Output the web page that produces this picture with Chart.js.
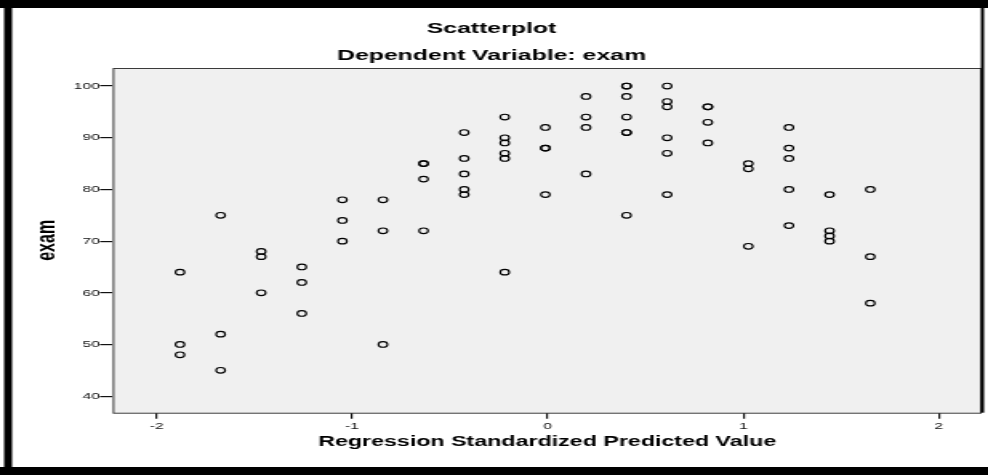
<!DOCTYPE html>
<html>
<head>
<meta charset="utf-8">
<title>Scatterplot</title>
<script src="https://cdn.jsdelivr.net/npm/chart.js@4.4.1/dist/chart.umd.min.js"></script>
<style>
  html, body { margin: 0; padding: 0; background: #ffffff; overflow: hidden; }
  #wrap { width: 988px; height: 475px; overflow: hidden; }
  /* the chart is laid out on a narrower canvas and widened to the page width */
  #chart { display: block; transform: scaleX(1.6013); transform-origin: 0 0; }
</style>
</head>
<body>
<div id="wrap"><canvas id="chart" width="617" height="475"></canvas></div>
<script>
// Regression standardized predicted value of each case
const predictedValue = [
  -1.881, -1.881, -1.881,
  -1.673, -1.673, -1.673,
  -1.466, -1.466, -1.466,
  -1.258, -1.258, -1.258,
  -1.050, -1.050, -1.050,
  -0.843, -0.843, -0.843,
  -0.635, -0.635, -0.635, -0.635,
  -0.427, -0.427, -0.427, -0.427, -0.427,
  -0.220, -0.220, -0.220, -0.220, -0.220, -0.220,
  -0.012, -0.012, -0.012, -0.012,
   0.196,  0.196,  0.196,  0.196,
   0.403,  0.403,  0.403,  0.403,  0.403,  0.403,  0.403,
   0.611,  0.611,  0.611,  0.611,  0.611,  0.611,
   0.819,  0.819,  0.819,  0.819,
   1.026,  1.026,  1.026,
   1.234,  1.234,  1.234,  1.234,  1.234,
   1.442,  1.442,  1.442,  1.442,
   1.650,  1.650,  1.650
];

// Observed exam score of each case
const examScore = [
  64, 50, 48,
  75, 52, 45,
  68, 67, 60,
  65, 62, 56,
  78, 74, 70,
  78, 72, 50,
  85, 85, 82, 72,
  91, 86, 83, 80, 79,
  94, 90, 89, 87, 86, 64,
  92, 88, 88, 79,
  98, 94, 92, 83,
  100, 100, 98, 94, 91, 91, 75,
  100, 97, 96, 90, 87, 79,
  96, 96, 93, 89,
  85, 84, 69,
  92, 88, 86, 80, 73,
  79, 72, 71, 70,
  80, 67, 58
];

const xTickValues = [-2, -1, 0, 1, 2];
const yTickValues = [40, 50, 60, 70, 80, 90, 100];

const chartTitle = 'Scatterplot';
const chartSubtitle = 'Dependent Variable: exam';
const xAxisTitle = 'Regression Standardized Predicted Value';
const yAxisTitle = 'exam';

const FONT = '"Liberation Sans", Arial, Helvetica, sans-serif';

const points = predictedValue.map((x, i) => ({ x: x, y: examScore[i] }));

// Grey plot panel, its outline and the black frame round the figure
const plotFrame = {
  id: 'plotFrame',
  beforeDraw(chart) {
    const { ctx, chartArea: a } = chart;
    ctx.save();
    ctx.fillStyle = '#f0f0f0';
    ctx.fillRect(a.left, a.top, a.right - a.left, a.bottom - a.top);
    ctx.restore();
  },
  afterDraw(chart) {
    const { ctx, chartArea: a, width, height } = chart;
    ctx.save();
    ctx.strokeStyle = '#3a3a3a';
    ctx.lineWidth = 1;
    ctx.strokeRect(a.left + 0.5, a.top + 0.5, a.right - a.left - 1, a.bottom - a.top);
    ctx.fillStyle = '#000000';
    ctx.fillRect(0, 0, width, 8);
    ctx.fillRect(2.5, 0, 5, height);
    ctx.fillRect(0, height - 8, width, 8);
    ctx.fillRect(a.right - 0.5, 0, 2, a.bottom);
    ctx.restore();
  }
};

new Chart(document.getElementById('chart'), {
  type: 'scatter',
  data: {
    datasets: [{
      data: points,
      showLine: false,
      pointStyle: 'circle',
      pointRadius: 2.8,
      pointHoverRadius: 2.8,
      pointBorderWidth: 1.15,
      borderColor: '#000000',
      backgroundColor: 'rgba(0,0,0,0)'
    }]
  },
  options: {
    responsive: false,
    animation: false,
    events: [],
    layout: { padding: { left: 0, right: 3.1, top: 0, bottom: 0 } },
    plugins: {
      legend: { display: false },
      tooltip: { enabled: false },
      title: {
        display: true,
        text: chartTitle,
        color: '#000000',
        font: { family: FONT, size: 15.5, weight: 'bold' },
        padding: { top: 19.7, bottom: 8.4 }
      },
      subtitle: {
        display: true,
        text: chartSubtitle,
        color: '#000000',
        font: { family: FONT, size: 15.5, weight: 'bold' },
        padding: { top: 0, bottom: 2.7 }
      }
    },
    scales: {
      x: {
        type: 'linear',
        position: 'bottom',
        min: -2.225,
        max: 2.22,
        afterBuildTicks(scale) { scale.ticks = xTickValues.map(v => ({ value: v })); },
        afterFit(scale) { scale.height = 62.3; },
        border: { display: false },
        grid: { drawOnChartArea: false, drawTicks: true, tickLength: 6, color: '#111111', lineWidth: 1.2 },
        ticks: {
          autoSkip: false, maxRotation: 0, padding: 1.5,
          color: '#111111',
          font: { family: FONT, size: 9.8 }
        },
        title: {
          display: true,
          text: xAxisTitle,
          color: '#000000',
          font: { family: FONT, size: 14.5, weight: 'bold' },
          padding: { top: 0, bottom: 24.5 }
        }
      },
      y: {
        type: 'linear',
        position: 'left',
        min: 36.8,
        max: 103.5,
        afterBuildTicks(scale) { scale.ticks = yTickValues.map(v => ({ value: v })); },
        afterFit(scale) { scale.width = 70.4; },
        border: { display: false },
        grid: { drawOnChartArea: false, drawTicks: true, tickLength: 8, color: '#111111', lineWidth: 1.2 },
        ticks: {
          autoSkip: false, padding: 0,
          color: '#111111',
          font: { family: FONT, size: 9.8 }
        },
        title: {
          display: true,
          text: yAxisTitle,
          color: '#000000',
          font: { family: FONT, size: 16, weight: 'bold' },
          padding: { top: 19.8, bottom: 0 }
        }
      }
    }
  },
  plugins: [plotFrame]
});
</script>
</body>
</html>
